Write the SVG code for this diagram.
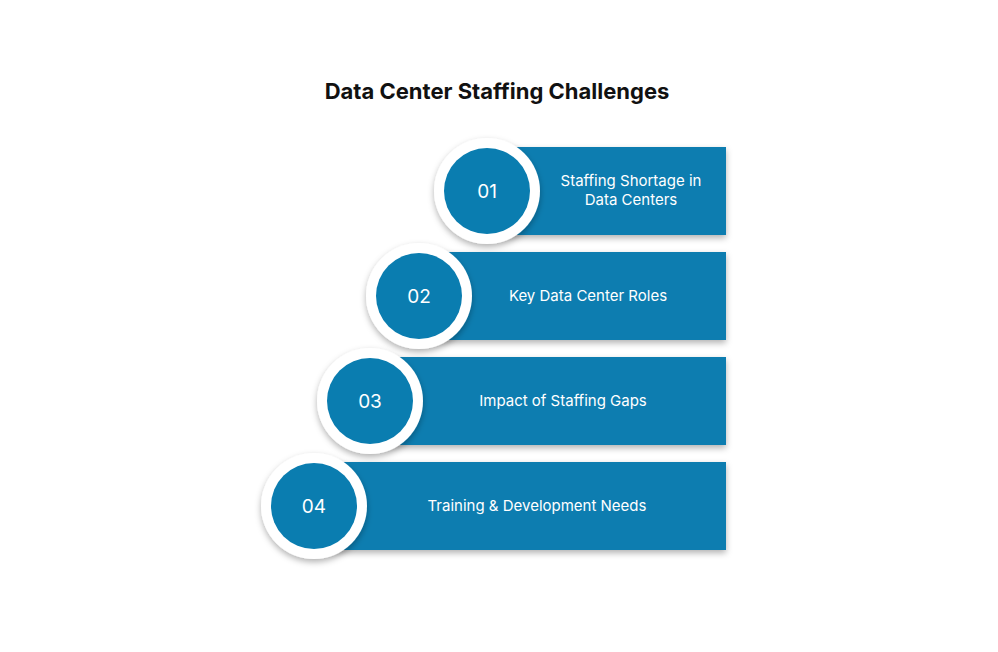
<svg xmlns="http://www.w3.org/2000/svg" width="998" height="652" viewBox="0 0 998 652">
<defs>
<style>
.bar{fill:#0a7db0}
.ring{fill:#ffffff}
.c{fill:#0a7db0}
.num{font-family:Inter,"Liberation Sans",sans-serif;font-size:19px;fill:#fff;text-anchor:middle}
.lbl{font-family:Inter,"Liberation Sans",sans-serif;font-size:15px;fill:#fff;text-anchor:middle}
</style>
<filter id="sh" x="-20%" y="-20%" width="140%" height="150%"><feDropShadow dx="0" dy="3" stdDeviation="3" flood-color="#000" flood-opacity="0.3"/></filter>
</defs>
<rect width="998" height="652" fill="#fff"/>
<text x="497" y="99" font-family="Inter,'Liberation Sans',sans-serif" font-size="22" font-weight="bold" text-anchor="middle" fill="#111">Data Center Staffing Challenges</text>
<g id="n1"><rect class="bar" x="490" y="147" width="236" height="88" filter="url(#sh)"/><circle class="ring" cx="487" cy="191" r="53" filter="url(#sh)"/><circle class="c" cx="487" cy="191" r="43"/><text class="num" x="487" y="198">01</text><text class="lbl" x="631" y="186">Staffing Shortage in</text><text class="lbl" x="631" y="205">Data Centers</text></g>
<g id="n2"><rect class="bar" x="420" y="252" width="306" height="88" filter="url(#sh)"/><circle class="ring" cx="419" cy="296" r="53" filter="url(#sh)"/><circle class="c" cx="419" cy="296" r="43"/><text class="num" x="419" y="303">02</text><text class="lbl" x="588" y="301">Key Data Center Roles</text></g>
<g id="n3"><rect class="bar" x="370" y="357" width="356" height="88" filter="url(#sh)"/><circle class="ring" cx="370" cy="401" r="53" filter="url(#sh)"/><circle class="c" cx="370" cy="401" r="43"/><text class="num" x="370" y="408">03</text><text class="lbl" x="563" y="406">Impact of Staffing Gaps</text></g>
<g id="n4"><rect class="bar" x="314" y="462" width="412" height="88" filter="url(#sh)"/><circle class="ring" cx="314" cy="506" r="53" filter="url(#sh)"/><circle class="c" cx="314" cy="506" r="43"/><text class="num" x="314" y="513">04</text><text class="lbl" x="537" y="511">Training &amp; Development Needs</text></g>
<g id="connectors"/>
</svg>
